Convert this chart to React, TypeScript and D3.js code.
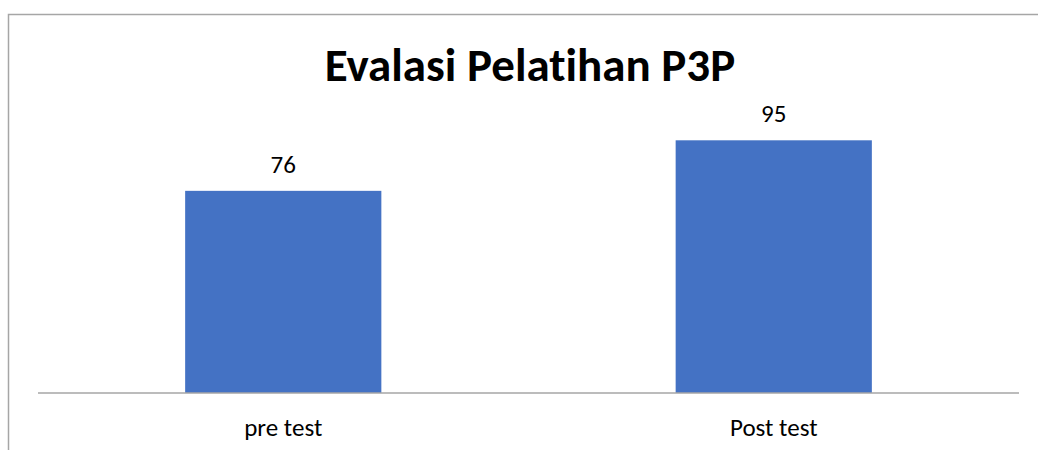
import { scaleBand, scaleLinear } from "d3";

const categories = ["pre test", "Post test"];
const values = [76, 95];
const title = "Evalasi Pelatihan P3P";

const WIDTH = 1038;
const HEIGHT = 450;
const MARGIN = { left: 38, right: 19, top: 127, bottom: 57 };

export default function App() {
  const boundsWidth = WIDTH - MARGIN.left - MARGIN.right;
  const boundsHeight = HEIGHT - MARGIN.top - MARGIN.bottom;

  const xScale = scaleBand<string>()
    .domain(categories)
    .range([0, boundsWidth])
    .paddingInner(0.6)
    .paddingOuter(0.3);

  const yScale = scaleLinear().domain([0, 100]).range([boundsHeight, 0]);

  const font = "Calibri, Carlito, 'Open Sans', sans-serif";

  return (
    <svg
      width={WIDTH}
      height={HEIGHT}
      style={{
        position: "absolute",
        left: 0,
        top: 0,
        display: "block",
        background: "#fff",
        fontVariantLigatures: "none",
      }}
    >
      <rect x={8.5} y={14.5} width={1040} height={450} fill="#fff" stroke="#a6a6a6" strokeWidth={1.5} />
      <text
        x={530}
        y={81}
        textAnchor="middle"
        fontFamily={font}
        fontWeight={700}
        fontSize={47}
        fill="#000"
      >
        {title}
      </text>
      <g transform={`translate(${MARGIN.left},${MARGIN.top})`}>
        {values.map((v, i) => {
          const x = xScale(categories[i]) ?? 0;
          return (
            <g key={i}>
              <rect
                x={x}
                y={yScale(v)}
                width={xScale.bandwidth()}
                height={boundsHeight - yScale(v)}
                fill="#4472c4"
              />
              <text
                x={x + xScale.bandwidth() / 2}
                y={yScale(v) - 18}
                textAnchor="middle"
                fontFamily={font}
                fontSize={25}
                fill="#000"
              >
                {v}
              </text>
            </g>
          );
        })}
        <line x1={0} x2={boundsWidth} y1={boundsHeight} y2={boundsHeight} stroke="#a6a6a6" strokeWidth={1.5} />
        {categories.map((c) => (
          <text
            key={c}
            x={(xScale(c) ?? 0) + xScale.bandwidth() / 2}
            y={boundsHeight + 43}
            textAnchor="middle"
            fontFamily={font}
            fontSize={25}
            fill="#000"
          >
            {c}
          </text>
        ))}
      </g>
    </svg>
  );
}
